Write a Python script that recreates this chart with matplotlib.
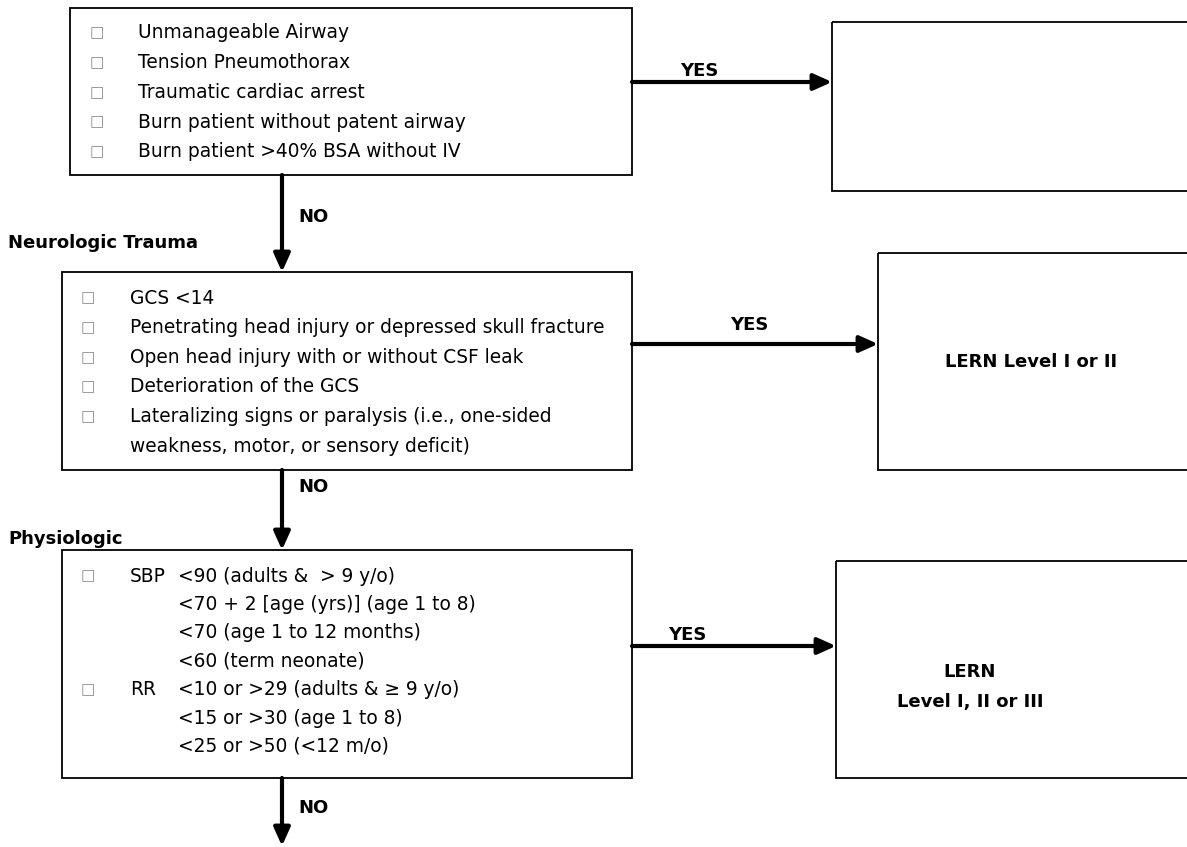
import matplotlib.pyplot as plt
from matplotlib.patches import Rectangle

plt.rcParams['font.family'] = ['DejaVu Sans']

# box contents
top_items = [
    "Unmanageable Airway",
    "Tension Pneumothorax",
    "Traumatic cardiac arrest",
    "Burn patient without patent airway",
    "Burn patient >40% BSA without IV",
]
neuro_items = [
    "GCS <14",
    "Penetrating head injury or depressed skull fracture",
    "Open head injury with or without CSF leak",
    "Deterioration of the GCS",
    "Lateralizing signs or paralysis (i.e., one-sided",
    "weakness, motor, or sensory deficit)",
]
neuro_bullets = [True, True, True, True, True, False]
physio_keys = ["SBP", "", "", "", "RR", "", ""]
physio_items = [
    "<90 (adults &  > 9 y/o)",
    "<70 + 2 [age (yrs)] (age 1 to 8)",
    "<70 (age 1 to 12 months)",
    "<60 (term neonate)",
    "<10 or >29 (adults & \u2265 9 y/o)",
    "<15 or >30 (age 1 to 8)",
    "<25 or >50 (<12 m/o)",
]
section_titles = ["Neurologic Trauma", "Physiologic"]
outcomes = ["", "LERN Level I or II", "LERN\nLevel I, II or III"]

W, H = 1187, 847
fig = plt.figure(figsize=(W / 100, H / 100), dpi=100)
ax = fig.add_axes([0, 0, 1, 1])
ax.set_xlim(0, W)
ax.set_ylim(H, 0)
ax.axis('off')

FS = 13.4   # body text
FSB = 13    # bold labels
BULLET = "\u25a1"


def box(x0, y0, x1, y1):
    ax.add_patch(Rectangle((x0, y0), x1 - x0, y1 - y0, fill=False,
                           edgecolor='black', lw=1.3, clip_on=False))


def arrow(x0, y0, x1, y1):
    ax.annotate("", xy=(x1, y1), xytext=(x0, y0),
                arrowprops=dict(arrowstyle="-|>,head_length=1.0,head_width=0.45",
                                lw=3.0, color='black', shrinkA=0, shrinkB=0,
                                mutation_scale=11))


def bullet(x, y):
    ax.text(x, y, BULLET, fontsize=11, color='#8c8c8c', ha='center', va='center')


# top block
box(70, 8, 632, 175)
for i, t in enumerate(top_items):
    y = 33 + i * 29.7
    bullet(97, y)
    ax.text(138, y, t, fontsize=FS, va='center')
box(832, 22, 1200, 191)
arrow(632, 82, 832, 82)
ax.text(680, 80, "YES", fontsize=FSB, weight='bold', va='bottom')

arrow(282, 175, 282, 272)
ax.text(298, 217, "NO", fontsize=FSB, weight='bold', va='center')
ax.text(8, 243, section_titles[0], fontsize=FSB, weight='bold', va='center')

# neurologic block
box(62, 272, 632, 470)
for i, (t, b) in enumerate(zip(neuro_items, neuro_bullets)):
    y = 298 + i * 29.6
    if b:
        bullet(88, y)
    ax.text(130, y, t, fontsize=FS, va='center')
box(878, 253, 1200, 470)
arrow(632, 344, 878, 344)
ax.text(730, 334, "YES", fontsize=FSB, weight='bold', va='bottom')
ax.text(1031, 362, outcomes[1], fontsize=FSB, weight='bold', ha='center', va='center')

arrow(282, 470, 282, 550)
ax.text(298, 487, "NO", fontsize=FSB, weight='bold', va='center')
ax.text(8, 539, section_titles[1], fontsize=FSB, weight='bold', va='center')

# physiologic block
box(62, 550, 632, 778)
for i, (k, t) in enumerate(zip(physio_keys, physio_items)):
    y = 576 + i * 28.4
    if k:
        bullet(88, y)
        ax.text(130, y, k, fontsize=FS, va='center')
    ax.text(178, y, t, fontsize=FS, va='center')
box(836, 561, 1200, 778)
arrow(632, 646, 836, 646)
ax.text(668, 644, "YES", fontsize=FSB, weight='bold', va='bottom')
ax.text(970, 687, outcomes[2], fontsize=FSB, weight='bold', ha='center',
        va='center', linespacing=1.8)

arrow(282, 778, 282, 846)
ax.text(298, 808, "NO", fontsize=FSB, weight='bold', va='center')

fig.savefig("out.png", dpi=100)
